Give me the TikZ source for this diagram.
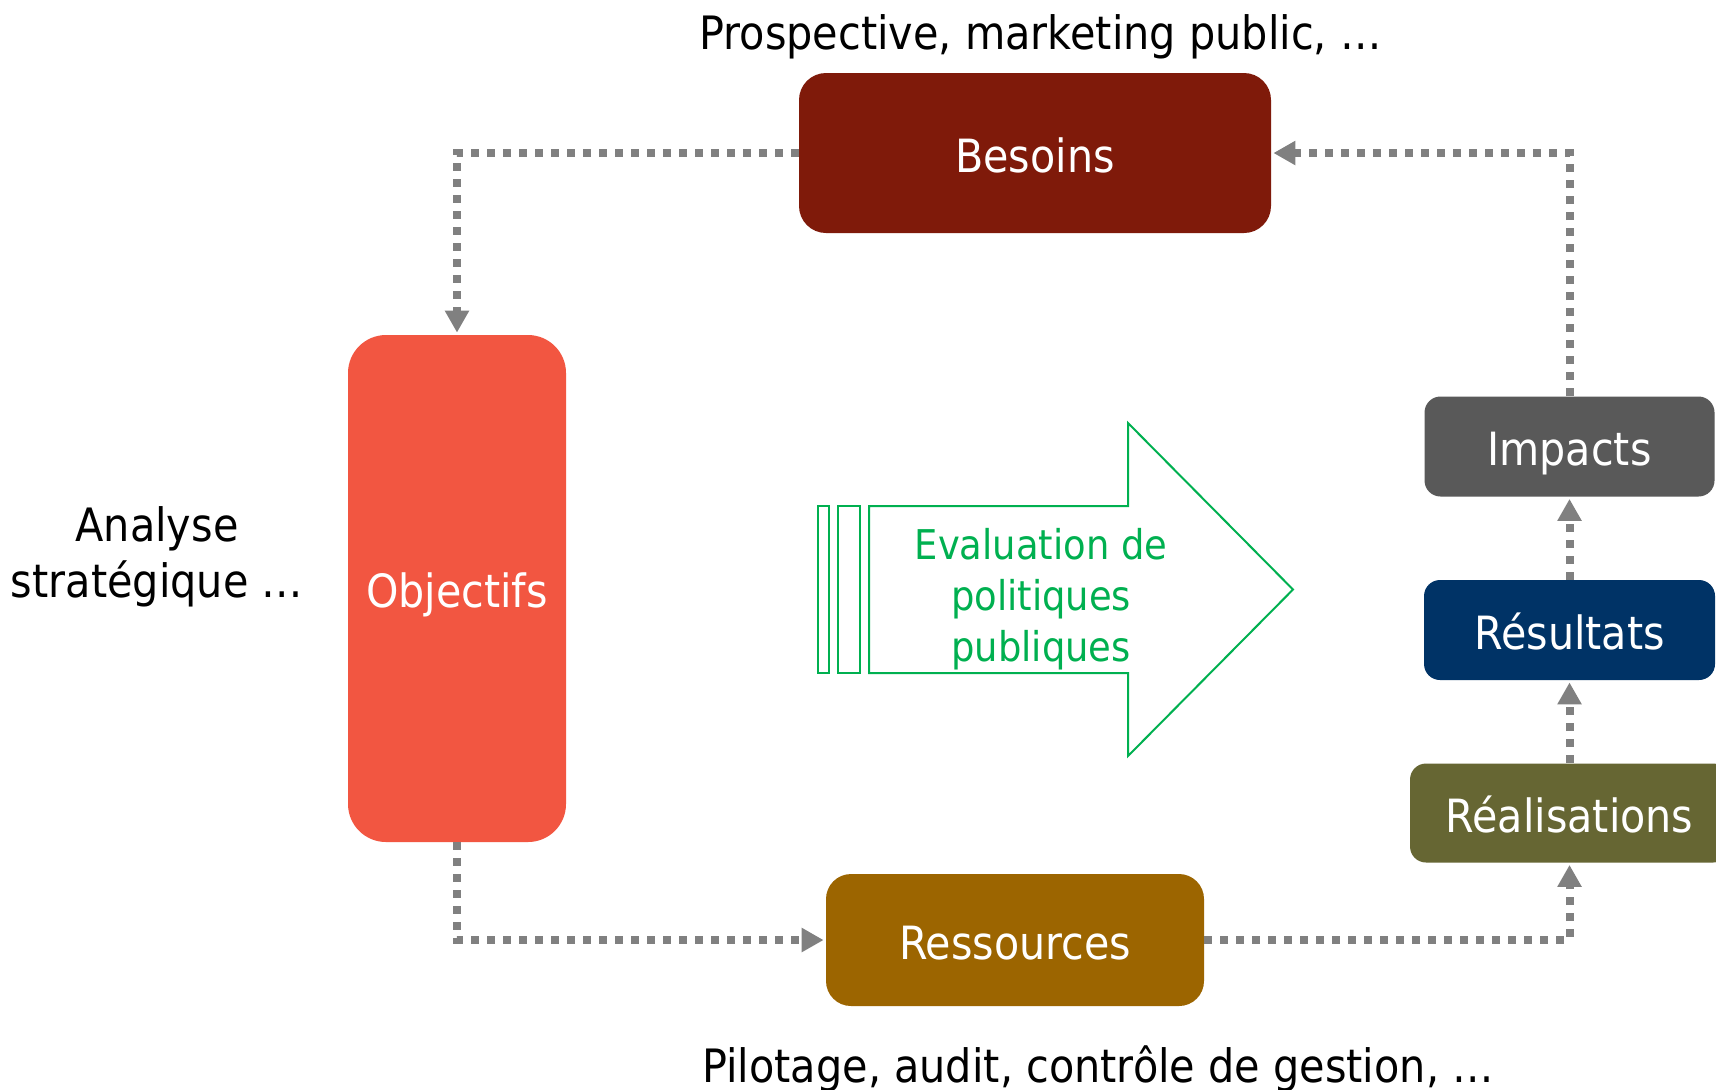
\documentclass[tikz,border=0pt]{standalone}
\usepackage{fontspec}
\setmainfont{DejaVu Sans}[FakeStretch=0.9]
\usetikzlibrary{arrows.meta}
\definecolor{besred}{HTML}{7F1A0A}
\definecolor{objred}{HTML}{F25641}
\definecolor{resbrown}{HTML}{9C6500}
\definecolor{impgray}{HTML}{595959}
\definecolor{resblue}{HTML}{003366}
\definecolor{realolive}{HTML}{666633}
\definecolor{evgreen}{HTML}{00B050}
\definecolor{conngray}{HTML}{808080}
\tikzset{
  box/.style={text=white, inner sep=0pt, font=\fontsize{22.9}{27}\selectfont,
    text height=19pt, text depth=0pt},
  lbl/.style={inner sep=0pt, font=\fontsize{23}{28}\selectfont, text=black},
  evlbl/.style={inner sep=0pt, font=\fontsize{20.5}{25}\selectfont, text=evgreen},
  conn/.style={draw=conngray, line width=4pt, dash pattern=on 4pt off 4pt,
    -{Triangle[width=11.5pt,length=11pt]}, shorten >=1pt},
  evshape/.style={draw=evgreen, line width=1pt}
}
\begin{document}
\begin{tikzpicture}[x=0.5pt,y=-0.5pt]
\clip (0,0) rectangle (1716,1089);
\fill[white] (0,0) rectangle (1716,1089);
% boxes
\node[box, fill=besred, rounded corners=13.5pt, minimum width=236pt, minimum height=80pt] (bes) at (1035,153) {Besoins};
\node[box, fill=objred, rounded corners=19pt, minimum width=109pt, minimum height=253.5pt] (obj) at (457,588.5) {Objectifs};
\node[box, fill=resbrown, rounded corners=12.5pt, minimum width=189pt, minimum height=66pt] (res) at (1015,940) {Ressources};
\node[box, fill=impgray, rounded corners=8pt, minimum width=145pt, minimum height=50pt] (imp) at (1569.5,446.5) {Impacts};
\node[box, fill=resblue, rounded corners=8pt, minimum width=145.5pt, minimum height=50pt] (resu) at (1569.5,630) {Résultats};
\node[box, fill=realolive, rounded corners=8pt, minimum width=159.5pt, minimum height=49.5pt] (real) at (1569.5,813) {Réalisations};
% labels
\node[lbl, anchor=base] (top) at (1040.5,49) {Prospective, marketing public, …};
\node[lbl, anchor=base] (bot) at (1098,1082) {Pilotage, audit, contrôle de gestion, …};
\node[lbl, anchor=base] (an1) at (157,541) {Analyse};
\node[lbl, anchor=base] (an2) at (157,597) {stratégique …};
% evaluation arrow
\draw[evshape] (818,506) rectangle (829,673);
\draw[evshape] (838,506) rectangle (860,673);
\draw[evshape] (869,506) -- (1128,506) -- (1128,423) -- (1293,589.5) -- (1128,756) -- (1128,673) -- (869,673) -- cycle;
\node[evlbl, anchor=base] (ev1) at (1041,559.5) {Evaluation de};
\node[evlbl, anchor=base] (ev2) at (1041,610.5) {politiques};
\node[evlbl, anchor=base] (ev3) at (1041,661.5) {publiques};
% connectors
\draw[conn] (bes.west) -| (obj.north);
\draw[conn] (obj.south) |- (res.west);
\draw[conn] (res.east) -| (real.south);
\draw[conn] (real.north) -- (resu.south);
\draw[conn] (resu.north) -- (imp.south);
\draw[conn] (imp.north) |- (bes.east);
\end{tikzpicture}
\end{document}
